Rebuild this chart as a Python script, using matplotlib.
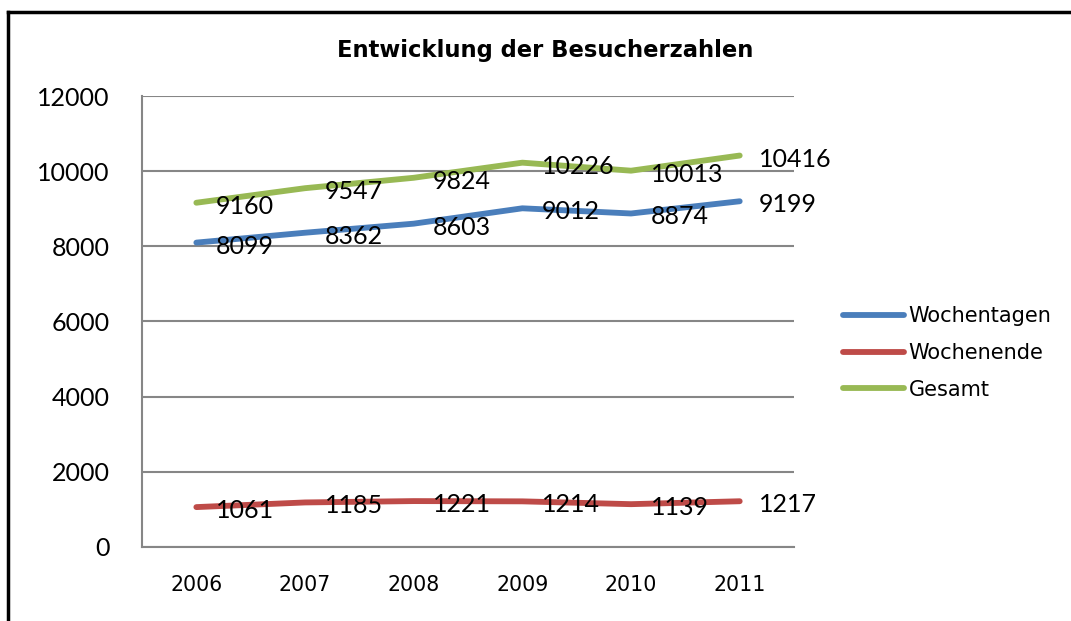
import numpy as np
import matplotlib.pyplot as plt
from matplotlib.lines import Line2D

years = ["2006", "2007", "2008", "2009", "2010", "2011"]
wochentagen = [8099, 8362, 8603, 9012, 8874, 9199]
wochenende = [1061, 1185, 1221, 1214, 1139, 1217]
gesamt = [9160, 9547, 9824, 10226, 10013, 10416]

series_names = ["Wochentagen", "Wochenende", "Gesamt"]
series_colors = ["#4A7EBB", "#BE4B48", "#98B954"]

fig = plt.figure(figsize=(10.71, 6.21), dpi=100)
ax = fig.add_axes([0.1326, 0.1192, 0.6088, 0.7262])

x = np.arange(len(years))
for vals, name, col in zip([wochentagen, wochenende, gesamt], series_names, series_colors):
    ax.plot(x, vals, color=col, linewidth=4.2, solid_capstyle="round", label=name)
    for xi, v in zip(x, vals):
        ax.annotate(str(v), (xi, v), xytext=(14, -2.5), textcoords="offset points",
                    ha="left", va="center", fontsize=18, family="Lato", color="black")

ax.set_xlim(-0.5, 5.5)
ax.set_ylim(0, 12000)
ax.set_yticks(range(0, 12001, 2000))
ax.set_xticks(x)
ax.set_xticklabels(years, fontsize=14.8, family="DejaVu Sans")
for lab in ax.get_yticklabels():
    lab.set_fontsize(18)
    lab.set_family("Lato")
ax.tick_params(axis="both", length=0)
ax.tick_params(axis="y", pad=23.5)
ax.tick_params(axis="x", pad=20.5)
ax.grid(axis="y", color="#868686", linewidth=1.5)
ax.set_axisbelow(True)
for s in ["top", "right"]:
    ax.spines[s].set_visible(False)
for s in ["left", "bottom"]:
    ax.spines[s].set_color("#868686")
    ax.spines[s].set_linewidth(1.5)

fig.text(0.509, 0.918, "Entwicklung der Besucherzahlen", ha="center", va="center",
         fontsize=16.3, fontweight="bold", family="DejaVu Sans")

fig.legend(loc="center left", bbox_to_anchor=(0.787, 0.4315), frameon=False,
           fontsize=15, handlelength=2.95, handletextpad=0.2, labelspacing=0.8,
           borderpad=0, borderaxespad=0)

# outer chart border (only top and left visible in the crop)
fig.add_artist(Line2D([8 / 1071, 8 / 1071], [0, 1 - 12 / 621], color="black", linewidth=2.5,
                      transform=fig.transFigure))
fig.add_artist(Line2D([8 / 1071, 1], [1 - 12 / 621, 1 - 12 / 621], color="black", linewidth=2.5,
                      transform=fig.transFigure))

fig.savefig("out.png", dpi=100)
